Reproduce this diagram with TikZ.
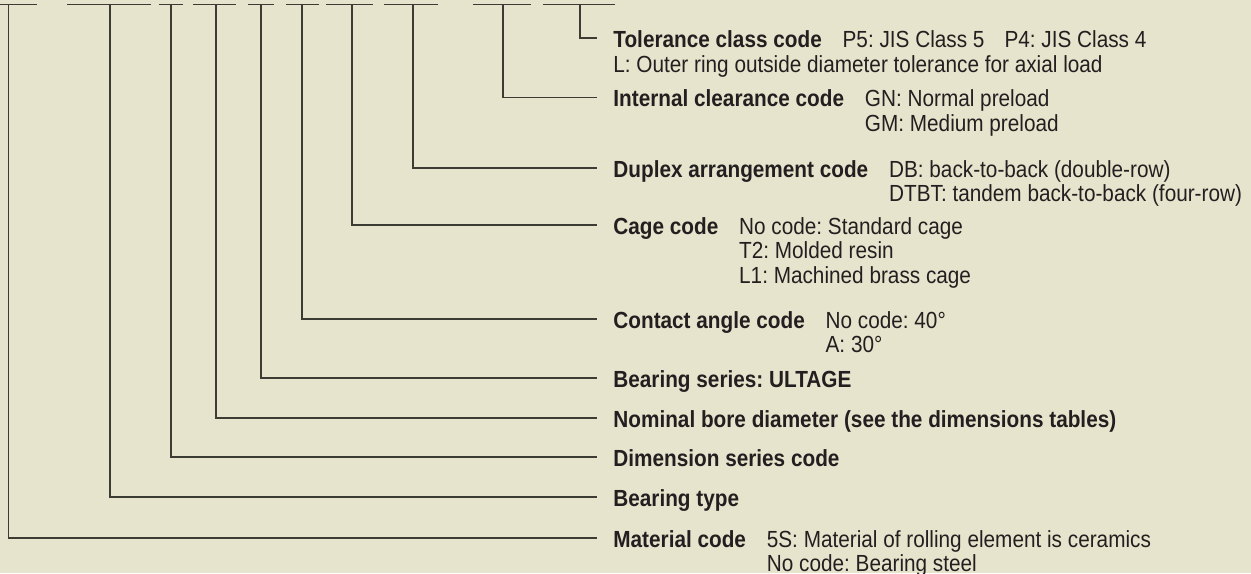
\documentclass[tikz,border=0pt]{standalone}
\usepackage{fontspec}
\setmainfont{Liberation Sans}[FakeStretch=0.89]
\usetikzlibrary{positioning}
\frenchspacing

\definecolor{paper}{RGB}{230,228,204}
\definecolor{ink}{RGB}{35,31,32}
\definecolor{rule}{RGB}{60,60,52}

\newcommand{\lblfont}{\fontsize{11.66}{12.3}\selectfont}
\newcommand{\rowsof}[1]{\begin{tabular}[t]{@{}l@{}}#1\end{tabular}}

\tikzset{
  lead/.style={draw=rule, line width=0.55pt},
  item/.style={anchor=west, inner xsep=8pt, inner ysep=0pt, text height=11pt,
    text depth=2pt, font=\lblfont\bfseries, text=ink},
  note/.style={anchor=base west, inner sep=0pt, font=\lblfont, text=ink},
}

\begin{document}
\begin{tikzpicture}[x=0.5pt,y=-0.5pt]
  \fill[paper] (0,0) rectangle (1251,573);
  \useasboundingbox (0,0) rectangle (1251,573);

  % digit bars of the bearing number
  \foreach \l/\r in {0/37,67/151,159/183,193/236,248/274,286/319,326/373,384/438,473/531,543/615}
    \draw[lead] (\l,4.7) -- (\r,4.7);
  \coordinate (t-mat) at (8.7,4.7);
  \coordinate (t-type) at (110,4.7);
  \coordinate (t-dim) at (171,4.7);
  \coordinate (t-bore) at (216,4.7);
  \coordinate (t-ser) at (261,4.7);
  \coordinate (t-ang) at (302,4.7);
  \coordinate (t-cage) at (352,4.7);
  \coordinate (t-dup) at (413,4.7);
  \coordinate (t-clr) at (503,4.7);
  \coordinate (t-tol) at (580,4.7);

  % tolerance class
  \node[item] (tol) at (597,38) {Tolerance class code};
  \node[note, right=2pt of tol.base east, anchor=base west] (tol-p) {P5: JIS Class 5\hspace{10pt}P4: JIS Class 4};
  \node[note] (tol-l) at ([shift={(8pt,-12.5pt)}]tol.base west) {L: Outer ring outside diameter tolerance for axial load};
  % internal clearance
  \node[item] (clr) at (597,97.7) {Internal clearance code};
  \node[note, right=2pt of clr.base east, anchor=base west] (clr-d) {\rowsof{GN: Normal preload\\GM: Medium preload}};
  % duplex arrangement
  \node[item] (dup) at (597,168) {Duplex arrangement code};
  \node[note, right=2pt of dup.base east, anchor=base west] (dup-d) {\rowsof{DB: back-to-back (double-row)\\DTBT: tandem back-to-back (four-row)}};
  % cage
  \node[item] (cage) at (597,225) {Cage code};
  \node[note, right=2pt of cage.base east, anchor=base west] (cage-d) {\rowsof{No code: Standard cage\\T2: Molded resin\\L1: Machined brass cage}};
  % contact angle
  \node[item] (ang) at (597,319) {Contact angle code};
  \node[note, right=2pt of ang.base east, anchor=base west] (ang-d) {\rowsof{No code: 40°\\A: 30°}};
  % plain ones
  \node[item] (ser) at (597,378) {Bearing series: ULTAGE};
  \node[item] (bore) at (597,418) {Nominal bore diameter (see the dimensions tables)};
  \node[item] (dim) at (597,457) {Dimension series code};
  \node[item] (type) at (597,497) {Bearing type};
  % material
  \node[item] (mat) at (597,538) {Material code};
  \node[note, right=2pt of mat.base east, anchor=base west] (mat-d) {\rowsof{5S: Material of rolling element is ceramics\\No code: Bearing steel}};

  % leaders
  \foreach \n in {tol,clr,dup,cage,ang,ser,bore,dim,type,mat}
    \draw[lead] (t-\n) |- (\n);
\end{tikzpicture}
\end{document}
